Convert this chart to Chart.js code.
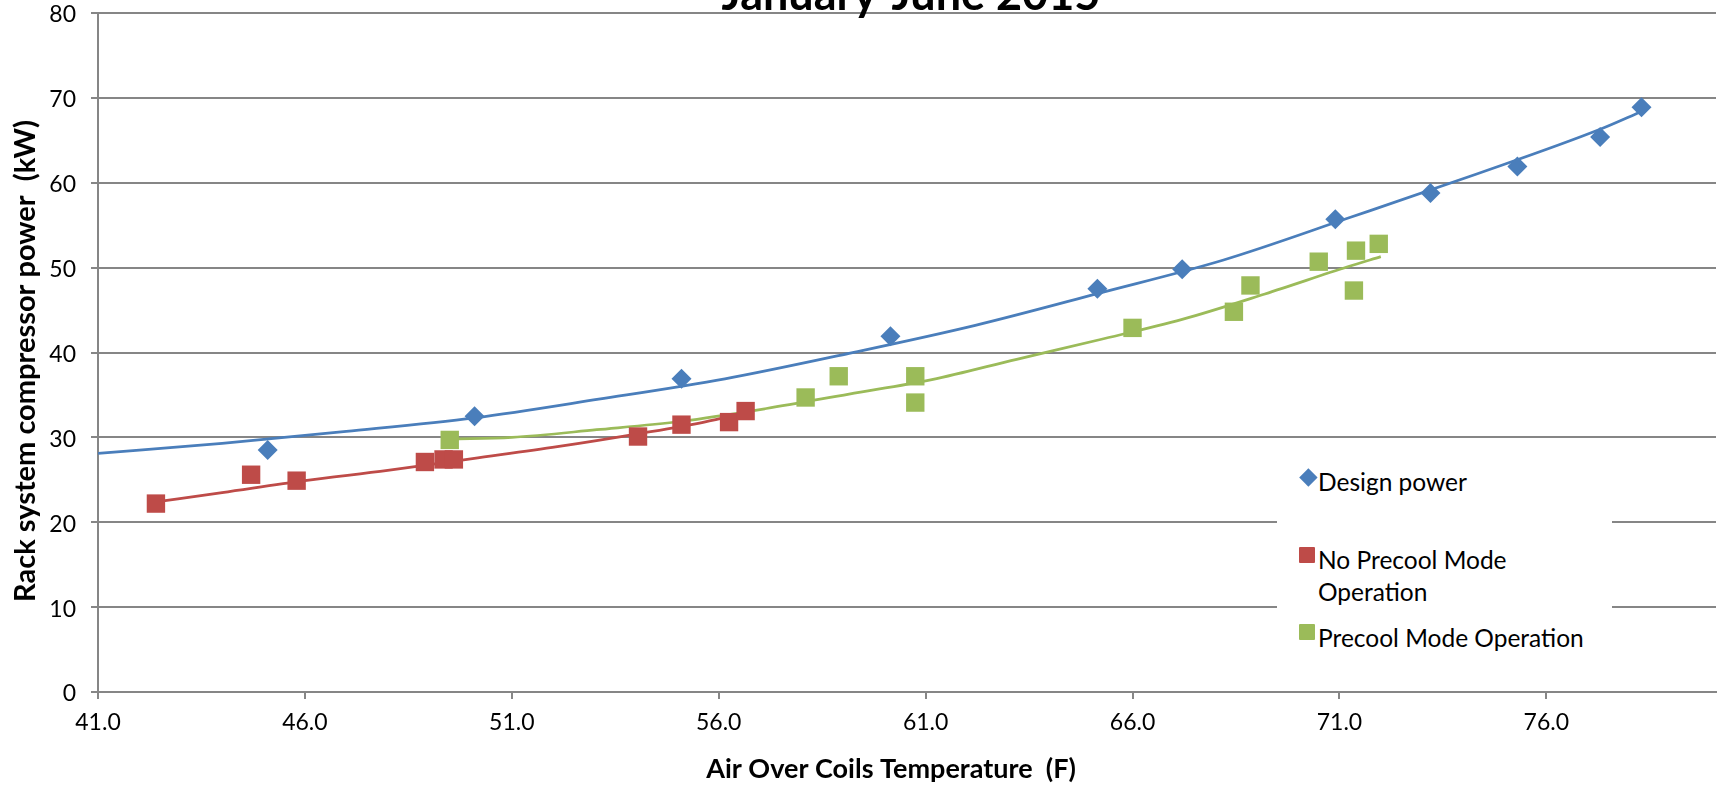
<!DOCTYPE html>
<html>
<head>
<meta charset="utf-8">
<script src="https://cdn.jsdelivr.net/npm/chart.js@4.4.1/dist/chart.umd.min.js"></script>
<style>
  html, body { margin: 0; padding: 0; background: #fff; }
  #wrap { position: relative; width: 1729px; height: 787px; overflow: hidden; }
  #chart { display: block; }
  #legend { position: absolute; left: 1277px; top: 450px; width: 335px; height: 220px; background: #fff;
            font-family: Lato, sans-serif; font-size: 24.5px; line-height: 32px; color: #000; }
  #legend .txt { position: absolute; left: 41px; white-space: nowrap; }
  #legend .mk { position: absolute; }
</style>
</head>
<body>
<div id="wrap">
  <canvas id="chart" width="1729" height="787"></canvas>
  <div id="legend"></div>
</div>
<script>
const titleText = 'January-June 2015';
const xTitle = 'Air Over Coils Temperature  (F)';
const yTitle = 'Rack system compressor power  (kW)';
const xTicks = [41, 46, 51, 56, 61, 66, 71, 76];

// Design power (diamonds)
const designX = [45.1, 50.1, 55.1, 60.15, 65.15, 67.2, 70.9, 73.2, 75.3, 77.3, 78.3];
const designY = [28.5, 32.5, 36.9, 41.9, 47.5, 49.8, 55.7, 58.8, 61.9, 65.4, 68.9];
// No Precool Mode Operation
const noPreX = [42.4, 44.7, 45.8, 48.9, 49.35, 49.6, 54.05, 55.1, 56.25, 56.65];
const noPreY = [22.2, 25.6, 24.9, 27.1, 27.4, 27.4, 30.1, 31.5, 31.8, 33.1];
// Precool Mode Operation
const preX = [49.5, 58.1, 58.9, 60.75, 60.75, 66.0, 68.45, 68.85, 70.5, 71.35, 71.4, 71.95];
const preY = [29.7, 34.7, 37.2, 37.2, 34.1, 42.9, 44.8, 47.9, 50.7, 47.3, 52.0, 52.8];

// trend lines
const designTrendX = [41, 44, 47, 50.1, 53.1, 56.15, 59.15, 62.2, 65.2, 68.2, 71.25, 74.3, 77.3, 78.3];
const designTrendY = [28.1, 29.3, 30.7, 32.3, 34.5, 36.9, 39.9, 43.2, 47.0, 50.9, 55.9, 61.0, 66.3, 68.4];
const noPreTrendX = [42.4, 44, 46, 48, 50.05, 52.1, 54.15, 55.65, 56.65];
const noPreTrendY = [22.4, 23.5, 24.9, 26.1, 27.5, 28.9, 30.5, 31.8, 32.9];
const preTrendX = [49.5, 51, 53.05, 55.1, 57.15, 59.15, 61.15, 63.2, 65.2, 67.2, 69.2, 71.2, 72.0];
const preTrendY = [29.8, 30.0, 30.9, 31.9, 33.4, 35.1, 36.8, 39.2, 41.5, 43.9, 46.9, 50.1, 51.3];

const BLUE = '#4A7EBB', RED = '#BE4B48', GREEN = '#9BBB59', GRID = '#868686';

const pts = (xs, ys) => xs.map((x, i) => ({ x: x, y: ys[i] }));

const trend = (xs, ys, color) => ({
  data: pts(xs, ys), showLine: true, borderColor: color, borderWidth: 2.75,
  pointRadius: 0, cubicInterpolationMode: 'monotone', fill: false
});
const marks = (xs, ys, color, style, r) => ({
  data: pts(xs, ys), showLine: false, pointStyle: style, pointRadius: r,
  backgroundColor: color, borderColor: color, borderWidth: 0
});

const textPlugin = {
  id: 'texts',
  afterDraw(chart) {
    const c = chart.ctx;
    c.save();
    c.fillStyle = '#000';
    c.textAlign = 'center';
    c.textBaseline = 'alphabetic';
    c.font = 'bold 45px Lato';
    c.fillText(titleText, 911, 10);
    c.font = 'bold 27px Lato';
    c.fillText(xTitle, 891, 778);
    c.font = 'bold 29px Lato';
    c.translate(35, 361);
    c.rotate(-Math.PI / 2);
    c.fillText(yTitle, 0, 0);
    c.restore();
  }
};

new Chart(document.getElementById('chart'), {
  type: 'scatter',
  data: {
    datasets: [
      marks(designX, designY, BLUE, 'rectRot', 10),
      marks(noPreX, noPreY, RED, 'rect', 13),
      marks(preX, preY, GREEN, 'rect', 13),
      trend(designTrendX, designTrendY, BLUE),
      trend(noPreTrendX, noPreTrendY, RED),
      trend(preTrendX, preTrendY, GREEN)
    ]
  },
  options: {
    responsive: false,
    animation: false,
    layout: { padding: 0 },
    plugins: { legend: { display: false }, tooltip: { enabled: false }, title: { display: false } },
    scales: {
      x: {
        type: 'linear', min: 41, max: 80.1,
        afterBuildTicks: s => { s.ticks = xTicks.map(v => ({ value: v })); },
        afterFit: s => { s.height = 95; },
        ticks: { callback: v => Number(v).toFixed(1), color: '#000', font: { family: 'Lato', size: 23 }, padding: 10, maxRotation: 0 },
        grid: { drawOnChartArea: false, drawTicks: true, tickLength: 7, color: GRID, lineWidth: 2 },
        border: { color: GRID, width: 2 }
      },
      y: {
        min: 0, max: 80,
        afterFit: s => { s.width = 98; s.paddingTop = 12; },
        ticks: { stepSize: 10, color: '#000', font: { family: 'Lato', size: 23 }, padding: 15, labelOffset: 2 },
        grid: { color: GRID, lineWidth: 2, tickLength: 7 },
        border: { color: GRID, width: 2 }
      }
    }
  },
  plugins: [textPlugin]
});

// legend inside the plot
const legendItems = [
  { color: BLUE, shape: 'diamond', lines: ['Design power'], mk: 27, top: 16 },
  { color: RED, shape: 'square', lines: ['No Precool  Mode', 'Operation'], mk: 105, top: 94 },
  { color: GREEN, shape: 'square', lines: ['Precool  Mode Operation'], mk: 182, top: 172 }
];
const leg = document.getElementById('legend');
legendItems.forEach(it => {
  const m = document.createElement('div');
  m.className = 'mk';
  if (it.shape === 'diamond') {
    m.style.cssText = 'left:' + (31 - 6.4) + 'px;top:' + (it.mk - 6.4) + 'px;width:12.8px;height:12.8px;transform:rotate(45deg);background:' + it.color;
  } else {
    m.style.cssText = 'left:22px;top:' + (it.mk - 8) + 'px;width:16px;height:16px;border-radius:1px;background:' + it.color;
  }
  leg.appendChild(m);
  const t = document.createElement('div');
  t.className = 'txt';
  t.style.top = it.top + 'px';
  t.innerHTML = it.lines.join('<br>');
  leg.appendChild(t);
});
</script>
</body>
</html>
